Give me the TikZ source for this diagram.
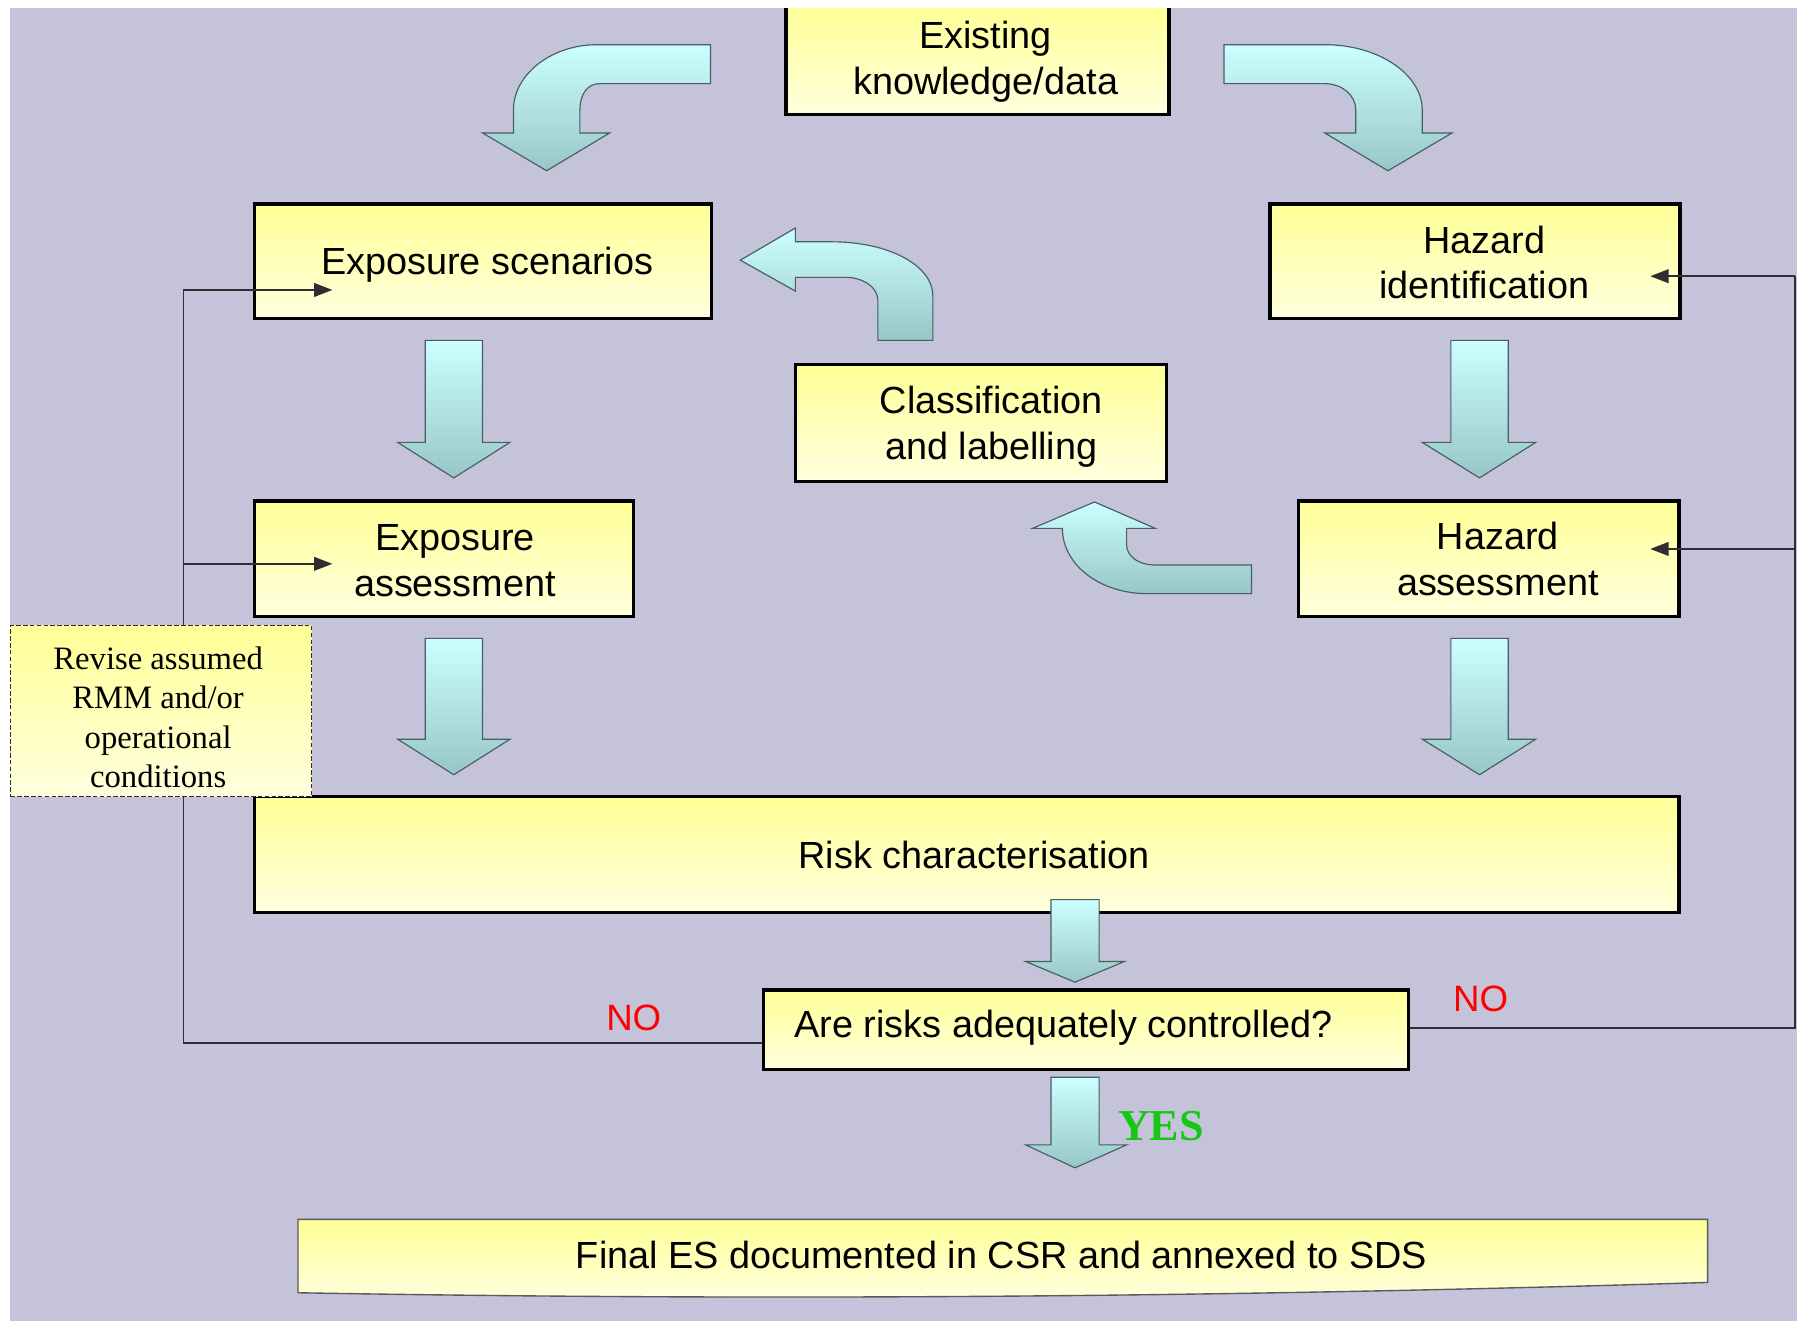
\documentclass[tikz,border=0pt]{standalone}
\usepackage{fontspec}
\setmainfont{Liberation Sans}
\newfontfamily\serifA{Liberation Serif}
\usetikzlibrary{arrows.meta}
\definecolor{bg}{RGB}{197,195,217}
\definecolor{ytop}{RGB}{255,255,150}
\definecolor{ybot}{RGB}{255,255,222}
\definecolor{atop}{RGB}{204,255,255}
\definecolor{abot}{RGB}{152,198,198}
\definecolor{aedge}{RGB}{70,95,95}
\definecolor{lncol}{RGB}{45,45,50}
\definecolor{nored}{RGB}{255,0,0}
\definecolor{yesgreen}{RGB}{20,200,20}
\begin{document}
\begin{tikzpicture}[x=1pt,y=-1pt,
  box/.style={draw=black, line width=3pt, top color=ytop, bottom color=ybot, inner sep=0pt},
  txt/.style={font=\fontsize{33}{40}\selectfont, align=center, inner sep=0pt},
  barrow/.style={draw=aedge, line width=1pt, top color=atop, bottom color=abot, line join=miter},
  fb/.style={draw=lncol, line width=1.5pt},
  fbarrow/.style={fb, -{Triangle[length=16pt,width=12pt]}},
  lbl/.style={inner sep=0pt}
]
\useasboundingbox (0,0) rectangle (1568,1153);
\fill[white] (0,0) rectangle (1568,1153);
\fill[bg] (9,7) rectangle (1568,1153);

% boxes
\begin{scope}
  \clip (9,7) rectangle (1568,1153);
  \node[box, minimum width=334pt, minimum height=96pt] (ex) at (853,52) {};
\end{scope}
\node[box, minimum width=399pt, minimum height=100pt] (es) at (421.5,228) {};
\node[box, minimum width=358pt, minimum height=100pt] (hi) at (1287,228) {};
\node[box, minimum width=324pt, minimum height=102pt] (cl) at (856,369) {};
\node[box, minimum width=331pt, minimum height=101pt] (ea) at (387.5,487.5) {};
\node[box, minimum width=332pt, minimum height=101pt] (ha) at (1299,487.5) {};
\node[box, minimum width=1243pt, minimum height=101pt] (rc) at (843.5,745.5) {};
\node[box, minimum width=563pt, minimum height=69pt] (q) at (947.5,898.5) {};
\path[draw=gray!70!black, line width=1.2pt, top color=ytop, bottom color=ybot]
  (260,1064) -- (1490,1064) -- (1490,1119) .. controls (1000,1134) and (600,1134) .. (260,1128) -- cycle;

% texts
\node[txt] (ex-t) at (860,54) {Existing\\knowledge/data};
\node[txt] (es-t) at (425,231) {Exposure scenarios};
\node[txt] (hi-t) at (1295,229) {Hazard\\identification};
\node[txt] (cl-t) at (865,372) {Classification\\and labelling};
\node[txt] (ea-t) at (397,489) {Exposure\\assessment};
\node[txt] (ha-t) at (1307,488) {Hazard\\assessment};
\node[txt] (rc-t) at (850,746) {Risk characterisation};
\node[txt] (q-t) at (928,897) {Are risks adequately controlled?};
\node[txt] (fin-t) at (874,1095) {Final ES documented in CSR and annexed to SDS};

% feedback lines
\coordinate (L1s) at (160,253); \coordinate (L1e) at (290,253);
\coordinate (L2s) at (160,492); \coordinate (L2e) at (290,492);
\coordinate (Lb) at (160,910);
\draw[fb] (L1s) -- (Lb) -- ([yshift=-11.5pt]q.west);
\draw[fbarrow] (L1s) -- (L1e);
\draw[fbarrow] (L2s) -- (L2e);
\coordinate (R1s) at (1566,241); \coordinate (R1e) at (1440,241);
\coordinate (R2s) at (1566,479); \coordinate (R2e) at (1440,479);
\coordinate (Rb) at (1566,897);
\draw[fb] ([yshift=1.5pt]q.east) -- (Rb) -- (R1s);
\draw[fbarrow] (R1s) -- (R1e);
\draw[fbarrow] (R2s) -- (R2e);

% revise box
\node[draw=lncol, line width=1pt, dash pattern=on 4pt off 2pt, top color=ytop, bottom color=ybot,
      minimum width=263pt, minimum height=149pt, inner sep=0pt] (rev) at (140.5,620.5) {};
\node[font=\serifA\fontsize{28.5}{34.3}\selectfont, align=center, inner sep=0pt] (rev-t) at (138,626)
  {Revise assumed\\RMM and/or\\operational\\conditions};

% labels
\node[lbl, font=\fontsize{32}{36}\selectfont, text=nored] (noL) at (553,888) {NO};
\node[lbl, font=\fontsize{32}{36}\selectfont, text=nored] (noR) at (1292,872) {NO};
\node[lbl, font=\serifA\bfseries\fontsize{38.5}{40}\selectfont, text=yesgreen] (yes) at (1013,983) {YES};

% straight block arrows
\path[barrow] (371,297) -- (421,297) -- (421,386) -- (445,386) -- (396,417) -- (347,386) -- (371,386) -- cycle;
\path[barrow] (371,557) -- (421,557) -- (421,645) -- (445,645) -- (396,676) -- (347,645) -- (371,645) -- cycle;
\path[barrow] (1266,297) -- (1316,297) -- (1316,386) -- (1340,386) -- (1291,417) -- (1241,386) -- (1266,386) -- cycle;
\path[barrow] (1266,557) -- (1316,557) -- (1316,645) -- (1340,645) -- (1291,676) -- (1241,645) -- (1266,645) -- cycle;
\path[barrow] (917,785) -- (959,785) -- (959,839) -- (981,839) -- (938,857) -- (895,839) -- (917,839) -- cycle;
\path[barrow] (917,940) -- (959,940) -- (959,999) -- (983,999) -- (938,1019) -- (895,999) -- (917,999) -- cycle;

% curved arrows at top
\path[barrow] (620,39) -- (521,39) .. controls (481,39) and (448,65) .. (448,96) -- (448,116) -- (421,116)
  -- (477,149) -- (532,116) -- (506,116) -- (506,96) .. controls (506,83) and (512,73) .. (523,73) -- (620,73) -- cycle;
\path[barrow] (1068,39) -- (1156,39) .. controls (1203,39) and (1241,65) .. (1241,96) -- (1241,116) -- (1267,116)
  -- (1211,149) -- (1156,116) -- (1183,116) -- (1183,96) .. controls (1183,83) and (1171,73) .. (1156,73) -- (1068,73) -- cycle;

% middle bent arrows
\path[barrow] (646,227) -- (694,199) -- (694,211) -- (726,211) .. controls (776,211) and (814,232) .. (814,258)
  -- (814,297) -- (766,297) -- (766,262) .. controls (766,250) and (752,242) .. (738,242) -- (694,242) -- (694,254) -- cycle;
\path[barrow] (955,438) -- (1008,461) -- (983,461) -- (983,475) .. controls (983,486) and (994,493) .. (1008,493)
  -- (1092,493) -- (1092,518) -- (1001,518) .. controls (960,518) and (927,493) .. (927,461) -- (901,461) -- cycle;
\end{tikzpicture}
\end{document}
